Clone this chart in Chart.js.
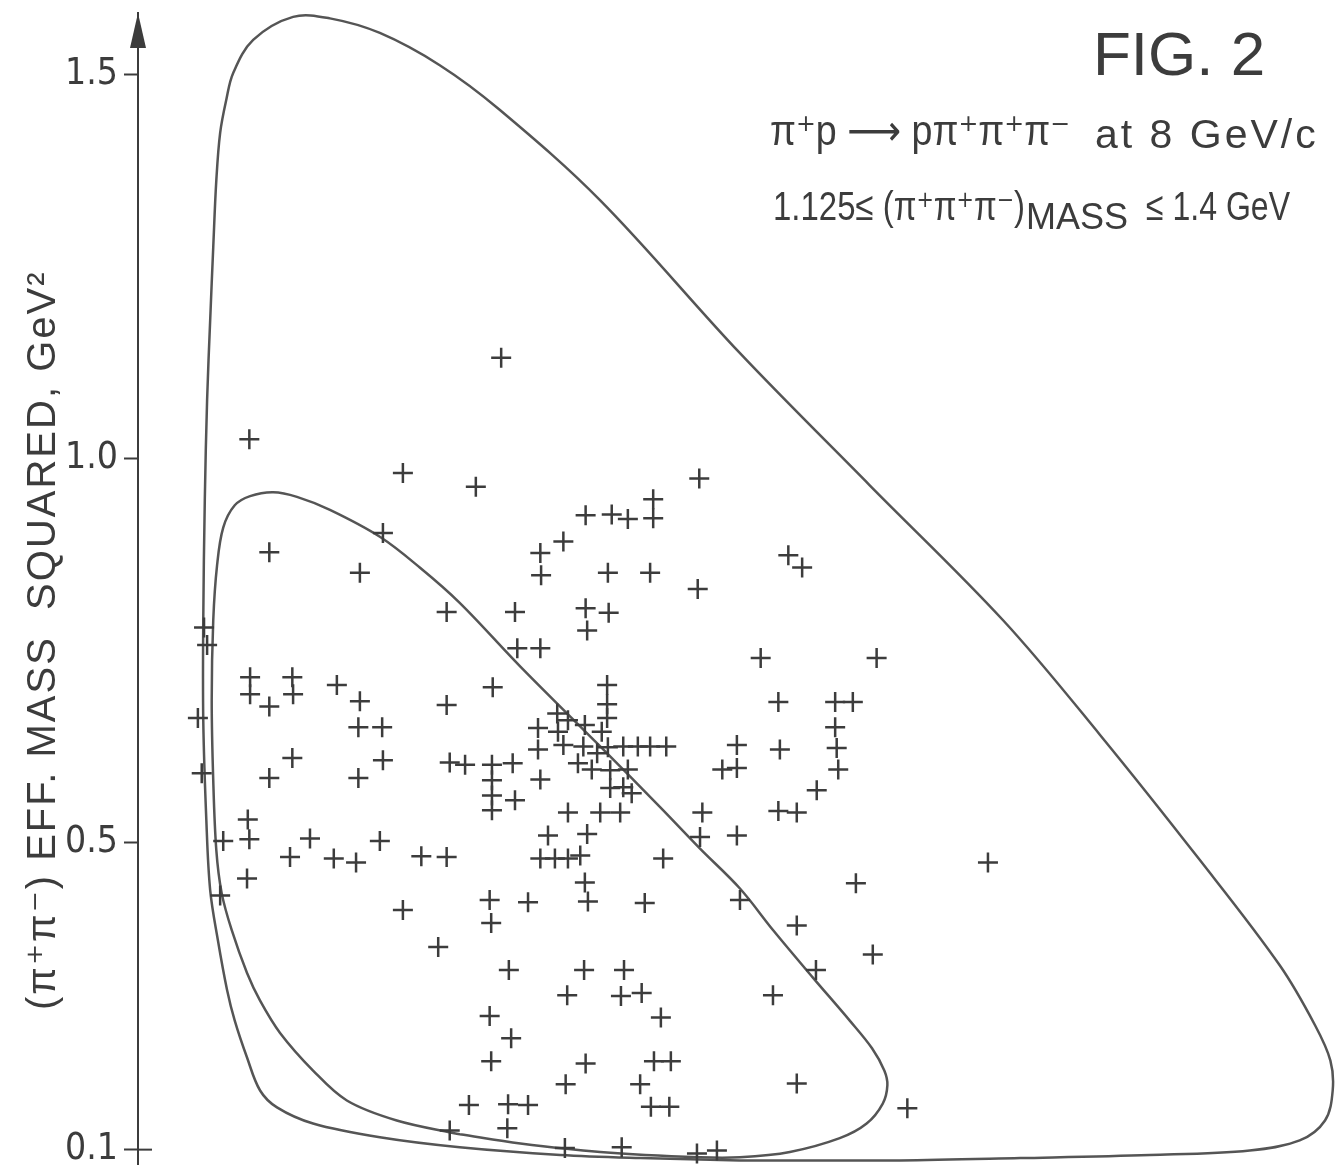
<!DOCTYPE html>
<html>
<head>
<meta charset="utf-8">
<title>Fig. 2</title>
<script src="https://cdn.jsdelivr.net/npm/chart.js@4.4.1/dist/chart.umd.min.js"></script>
<style>
  html, body { margin: 0; padding: 0; background: #fff; }
  #wrap { width: 1335px; height: 1165px; position: relative; }
</style>
</head>
<body>
<div id="wrap"><canvas id="dalitz"></canvas></div>
<script>
// DATA, both axes in GeV^2
const yTicks = [0.1, 0.5, 1.0, 1.5];

// events (one cross each)
const eventsX = [
  0.473, 0.145, 0.345, 0.440, 0.731, 0.671, 0.583, 0.617, 0.638, 0.671,
  0.319, 0.554, 0.524, 0.171, 0.289, 0.525, 0.612, 0.667, 0.729, 0.847,
  0.865, 0.402, 0.491, 0.583, 0.613, 0.585,
  0.086, 0.090, 0.494, 0.524, 0.811, 0.962, 0.146, 0.201, 0.259, 0.462,
  0.611, 0.146, 0.202, 0.289, 0.171, 0.402, 0.611, 0.834, 0.908, 0.931,
  0.078, 0.546, 0.560, 0.611, 0.582, 0.287, 0.318, 0.521, 0.908, 0.547,
  0.604, 0.554, 0.521, 0.580, 0.598, 0.612, 0.632, 0.651, 0.667, 0.688,
  0.780, 0.836, 0.910, 0.201, 0.319, 0.406, 0.426, 0.461, 0.488, 0.573,
  0.591, 0.615, 0.638, 0.761, 0.780, 0.912, 0.083, 0.171, 0.287, 0.524,
  0.461, 0.615, 0.632, 0.643, 0.884, 0.461, 0.491, 0.461, 0.560, 0.602,
  0.628, 0.735, 0.834, 0.858, 0.143, 0.111, 0.145, 0.224, 0.315, 0.534,
  0.585, 0.732, 0.780, 0.198, 0.255, 0.284, 0.369, 0.402, 0.524, 0.543,
  0.560, 0.576, 0.684, 1.107, 0.142, 0.582, 0.935, 0.107,
  0.458, 0.508, 0.586, 0.660, 0.784, 0.345, 0.460, 0.858, 0.391, 0.957,
  0.483, 0.581, 0.633, 0.883, 0.559, 0.629, 0.656, 0.827, 0.458, 0.681,
  0.486, 0.460, 0.583, 0.672, 0.694, 0.557, 0.654, 0.858, 0.431, 0.482,
  0.508, 0.668, 0.692, 1.002, 0.481, 0.406, 0.556, 0.630, 0.728, 0.754
];
const eventsY = [
  1.131, 1.025, 0.981, 0.963, 0.974, 0.947, 0.926, 0.927, 0.921, 0.922,
  0.903, 0.892, 0.877, 0.878, 0.851, 0.848, 0.851, 0.851, 0.830, 0.874,
  0.858, 0.800, 0.800, 0.805, 0.799, 0.776,
  0.780, 0.757, 0.753, 0.753, 0.740, 0.740, 0.715, 0.715, 0.705, 0.702,
  0.705, 0.693, 0.693, 0.684, 0.677, 0.679, 0.680, 0.683, 0.683, 0.683,
  0.662, 0.668, 0.659, 0.662, 0.653, 0.650, 0.650, 0.649, 0.650, 0.644,
  0.644, 0.627, 0.621, 0.625, 0.616, 0.624, 0.625, 0.625, 0.625, 0.625,
  0.627, 0.621, 0.623, 0.610, 0.607, 0.604, 0.601, 0.601, 0.603, 0.603,
  0.595, 0.594, 0.595, 0.595, 0.597, 0.595, 0.590, 0.584, 0.584, 0.582,
  0.581, 0.571, 0.572, 0.564, 0.568, 0.561, 0.555, 0.542, 0.539, 0.539,
  0.539, 0.539, 0.541, 0.539, 0.530, 0.502, 0.504, 0.505, 0.502, 0.509,
  0.511, 0.507, 0.509, 0.481, 0.479, 0.474, 0.482, 0.481, 0.479, 0.479,
  0.479, 0.483, 0.479, 0.474, 0.453, 0.448, 0.447, 0.431,
  0.425, 0.422, 0.423, 0.421, 0.425, 0.412, 0.395, 0.392, 0.364, 0.354,
  0.334, 0.334, 0.334, 0.334, 0.301, 0.300, 0.304, 0.301, 0.274, 0.272,
  0.245, 0.215, 0.212, 0.215, 0.215, 0.185, 0.185, 0.186, 0.158, 0.159,
  0.158, 0.156, 0.156, 0.154, 0.128, 0.125, 0.102, 0.103, 0.095, 0.099
];

// outer kinematic boundary
const outerX = [
  0.784, 0.654, 0.550, 0.419, 0.315, 0.228, 0.181, 0.159, 0.142, 0.126,
  0.116, 0.104, 0.094, 0.089, 0.085, 0.085, 0.087, 0.090, 0.094, 0.098,
  0.102, 0.107, 0.115, 0.124, 0.150, 0.202, 0.250, 0.315, 0.393, 0.471,
  0.602, 0.784, 0.953, 1.127, 1.253, 1.383, 1.487, 1.533, 1.553, 1.556,
  1.546, 1.513, 1.448, 1.318, 1.149, 0.992, 0.784
];
const outerY = [
  0.086, 0.089, 0.093, 0.103, 0.116, 0.134, 0.155, 0.177, 0.220, 0.268,
  0.308, 0.373, 0.438, 0.529, 0.659, 0.789, 0.946, 1.076, 1.180, 1.275,
  1.362, 1.424, 1.467, 1.502, 1.545, 1.575, 1.573, 1.554, 1.512, 1.454,
  1.336, 1.137, 0.965, 0.789, 0.640, 0.477, 0.340, 0.262, 0.216, 0.177,
  0.138, 0.112, 0.099, 0.093, 0.089, 0.086, 0.086
];

// inner boundary
const innerX = [
  0.419, 0.337, 0.272, 0.228, 0.185, 0.159, 0.142, 0.122, 0.109, 0.102,
  0.098, 0.096, 0.098, 0.103, 0.111, 0.126, 0.146, 0.176, 0.207, 0.250,
  0.315, 0.367, 0.419, 0.498, 0.602, 0.680, 0.732, 0.784, 0.827, 0.879,
  0.927, 0.956, 0.972, 0.976, 0.970, 0.949, 0.914, 0.849, 0.784, 0.732,
  0.602, 0.498, 0.419
];
const innerY = [
  0.120, 0.138, 0.164, 0.203, 0.252, 0.294, 0.330, 0.386, 0.434, 0.490,
  0.581, 0.685, 0.789, 0.861, 0.910, 0.939, 0.951, 0.956, 0.950, 0.933,
  0.898, 0.858, 0.812, 0.729, 0.625, 0.546, 0.492, 0.440, 0.386, 0.324,
  0.268, 0.232, 0.203, 0.184, 0.160, 0.134, 0.115, 0.097, 0.090, 0.090,
  0.097, 0.108, 0.120
];

const ink = "#3c3c3c";
const plain = '"Liberation Sans", "DejaVu Sans", sans-serif';
const narrow = '"Liberation Sans Narrow", "DejaVu Sans Condensed", "Liberation Sans", sans-serif';

const toPoints = (xs, ys) => xs.map((x, i) => ({ x: x, y: ys[i] }));

// axis arrow, titles and the reaction text
const decorations = {
  id: "decorations",
  afterDraw(chart) {
    const ctx = chart.ctx;
    const area = chart.chartArea;
    const yScale = chart.scales.y;
    const ax = area.left;
    ctx.save();
    ctx.fillStyle = ink;
    ctx.strokeStyle = ink;

    // arrow head
    ctx.beginPath();
    ctx.moveTo(ax, area.top);
    ctx.lineTo(ax - 8, area.top + 35);
    ctx.lineTo(ax + 8, area.top + 35);
    ctx.closePath();
    ctx.fill();

    // foot of the axis
    const yFoot = yScale.getPixelForValue(yTicks[0]);
    ctx.lineWidth = 2;
    ctx.beginPath();
    ctx.moveTo(ax, yFoot);
    ctx.lineTo(ax + 14, yFoot);
    ctx.stroke();

    ctx.textBaseline = "alphabetic";
    ctx.textAlign = "left";

    // y axis title
    ctx.save();
    ctx.translate(55, 1010);
    ctx.rotate(-Math.PI / 2);
    ctx.font = "40px " + plain;
    ctx.letterSpacing = "2px";
    ctx.fillText("(π⁺π⁻) EFF. MASS  SQUARED, GeV²", 0, 0, 745);
    ctx.restore();

    ctx.font = "62px " + plain;
    ctx.fillText("FIG. 2", 1093, 75);

    ctx.font = "42px " + plain;
    ctx.fillText("π⁺p ⟶ pπ⁺π⁺π⁻", 770, 145, 300);
    ctx.save();
    ctx.font = "41px " + plain;
    ctx.letterSpacing = "3px";
    ctx.fillText("at 8 GeV/c", 1095, 148, 232);
    ctx.restore();

    ctx.font = "40px " + plain;
    ctx.fillText("1.125≤ (π⁺π⁺π⁻)", 773, 220, 252);
    ctx.font = "36px " + plain;
    ctx.fillText("MASS", 1026, 229, 114);
    ctx.font = "40px " + plain;
    ctx.fillText("≤ 1.4 GeV", 1146, 220, 144);
    ctx.restore();
  }
};

new Chart(document.getElementById("dalitz"), {
  type: "scatter",
  data: {
    datasets: [
      {
        label: "Events",
        data: toPoints(eventsX, eventsY),
        pointStyle: "cross",
        pointRadius: 10,
        pointBorderWidth: 2.5,
        borderColor: ink,
        backgroundColor: ink,
      },
      {
        label: "Outer boundary",
        data: toPoints(outerX, outerY),
        showLine: true,
        pointRadius: 0,
        tension: 0.35,
        borderColor: "#555",
        borderWidth: 2.5,
      },
      {
        label: "Inner boundary",
        data: toPoints(innerX, innerY),
        showLine: true,
        pointRadius: 0,
        tension: 0.35,
        borderColor: "#555",
        borderWidth: 2.5,
      },
    ],
  },
  options: {
    responsive: true,
    maintainAspectRatio: false,
    animation: false,
    layout: {
      autoPadding: false,
      padding: { left: 0, right: 0, top: 13, bottom: 0 },
    },
    scales: {
      x: {
        type: "linear",
        display: false,
        min: 0,
        max: 1.559,
      },
      y: {
        type: "linear",
        min: 0.08,
        max: 1.58,
        afterFit: (scale) => {
          scale.width = 138;
          scale.paddingTop = 0;
          scale.paddingBottom = 0;
        },
        afterBuildTicks: (scale) => {
          scale.ticks = yTicks.map((v) => ({ value: v }));
        },
        ticks: {
          callback: (v) => v.toFixed(1),
          color: ink,
          font: { family: narrow, size: 37 },
          padding: 6,
        },
        grid: {
          drawOnChartArea: false,
          drawTicks: true,
          tickLength: 14,
          tickWidth: 2,
          tickColor: ink,
        },
        border: { display: true, color: ink, width: 2 },
      },
    },
    plugins: {
      legend: { display: false },
      tooltip: { enabled: false },
    },
  },
  plugins: [decorations],
});
</script>
</body>
</html>
